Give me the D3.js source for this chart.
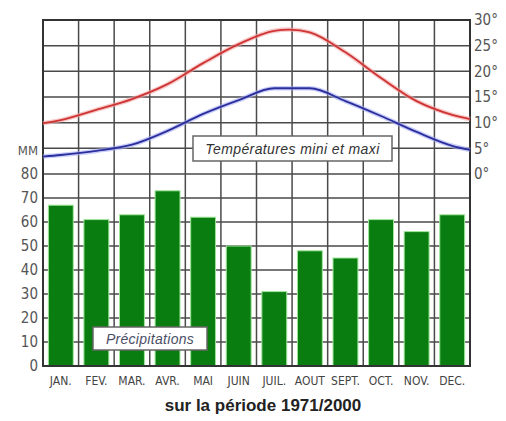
<!DOCTYPE html>
<html><head><meta charset="utf-8">
<script src="https://cdn.jsdelivr.net/npm/d3@7"></script>
<style>
html,body{margin:0;padding:0;background:#fff;}
svg{display:block;}
.nar{font-family:"Liberation Sans Narrow","Arial Narrow","DejaVu Sans Condensed",sans-serif;}
</style></head>
<body>
<svg id="c" width="506" height="421"></svg>
<script>
const months = ["JAN.","FEV.","MAR.","AVR.","MAI","JUIN","JUIL.","AOUT","SEPT.","OCT.","NOV.","DEC."];
const precip = [67,61,63,73,62,50,31,48,45,61,56,63];
const tMax = [10.5,12.5,14.6,17.5,21.6,25.3,27.9,27.6,23.7,18.7,14.2,11.5];
const tMin = [3.7,4.5,5.7,8.4,11.7,14.4,16.7,16.7,14.2,11.3,8.2,5.5];
// values where the curves meet the left and right frame
const tMaxEdges = [9.9, 10.7];
const tMinEdges = [3.4, 4.7];
const mmTicks = [0,10,20,30,40,50,60,70,80];
const tempTicks = [0,5,10,15,20,25,30];

const svg = d3.select("#c");
const L = 43, R = 470, T = 20, B = 366;

const x = d3.scaleBand().domain(months).range([L, R]).paddingInner(0.3).paddingOuter(0.15);
const yMM = d3.scaleLinear().domain([0, 80]).range([B, 174]);
const yT = d3.scaleLinear().domain([0, 30]).range([174, T]);
const step = x.step();

// grid
const g = svg.append("g");
const vlines = d3.range(13).map(i => L + i * step);
g.selectAll("line.v").data(vlines).join("line")
  .attr("x1", d => d).attr("x2", d => d).attr("y1", T).attr("y2", B)
  .attr("stroke", "#4a4a4a").attr("stroke-width", 1.5);
const hl = tempTicks.map(t => yT(t)).concat(mmTicks.slice(0, 8).map(m => yMM(m)));
g.selectAll("line.h").data(hl).join("line")
  .attr("x1", L).attr("x2", R).attr("y1", d => d).attr("y2", d => d)
  .attr("stroke", "#4a4a4a").attr("stroke-width", 1.5);

// bars
svg.append("g").selectAll("rect").data(precip).join("rect")
  .attr("x", (d, i) => x(months[i]))
  .attr("y", d => yMM(d))
  .attr("width", x.bandwidth())
  .attr("height", d => B - yMM(d))
  .attr("fill", "#0a7d10")
  .attr("stroke", "#9fe69a").attr("stroke-width", 1);

// frame
svg.append("rect").attr("x", L).attr("y", T).attr("width", R - L).attr("height", B - T)
  .attr("fill", "none").attr("stroke", "#333").attr("stroke-width", 2);

// temperature curves
const cx = i => x(months[i]) + x.bandwidth() / 2;
function series(arr, edges) {
  const pts = arr.map((v, i) => [cx(i), yT(v)]);
  pts.unshift([x.range()[0], yT(edges[0])]);
  pts.push([x.range()[1], yT(edges[1])]);
  return pts;
}
const lineR = d3.line().curve(d3.curveCatmullRom.alpha(0.5));
const lineB = d3.line().curve(d3.curveMonotoneX);
const lg = svg.append("g");
lg.append("path").attr("d", lineR(series(tMax, tMaxEdges))).attr("fill", "none").attr("stroke", "#f4a6a6").attr("stroke-width", 4.5).attr("opacity", 0.6);
lg.append("path").attr("d", lineR(series(tMax, tMaxEdges))).attr("fill", "none").attr("stroke", "#cf3434").attr("stroke-width", 1.8);
lg.append("path").attr("d", lineB(series(tMin, tMinEdges))).attr("fill", "none").attr("stroke", "#a6acf2").attr("stroke-width", 4.5).attr("opacity", 0.6);
lg.append("path").attr("d", lineB(series(tMin, tMinEdges))).attr("fill", "none").attr("stroke", "#2b2f9e").attr("stroke-width", 1.8);

// left axis labels
svg.append("g").selectAll("text").data(mmTicks).join("text")
  .attr("class", "nar")
  .attr("x", 38).attr("y", d => yMM(d)).attr("dy", "0.36em")
  .attr("text-anchor", "end").attr("font-size", 15).attr("fill", "#555")
  .text(d => d);
svg.append("text").attr("class", "nar").attr("x", 38).attr("y", yMM(90)).attr("dy", "0.36em")
  .attr("text-anchor", "end").attr("font-size", 13).attr("fill", "#555").text("MM");

// right axis labels
svg.append("g").selectAll("text").data(tempTicks).join("text")
  .attr("class", "nar")
  .attr("x", 474).attr("y", d => yT(d)).attr("dy", "0.36em")
  .attr("font-size", 15).attr("fill", "#555")
  .text(d => d + "°");

// month labels
svg.append("g").selectAll("text").data(months).join("text")
  .attr("class", "nar")
  .attr("x", d => x(d) + x.bandwidth() / 2).attr("y", 385)
  .attr("text-anchor", "middle").attr("font-size", 12).attr("fill", "#444")
  .text(d => d);

// legend boxes
function box(x0, y0, w, h, label, col, ls) {
  svg.append("rect").attr("x", x0).attr("y", y0).attr("width", w).attr("height", h)
    .attr("fill", "#fff").attr("stroke", "#666").attr("stroke-width", 1.5);
  svg.append("text").attr("x", x0 + w / 2).attr("y", y0 + h / 2).attr("dy", "0.36em")
    .attr("text-anchor", "middle").attr("font-style", "italic")
    .attr("font-family", "Liberation Sans, Arial, sans-serif").attr("font-size", 14)
    .attr("letter-spacing", ls)
    .attr("fill", col).text(label);
}
box(193, 136, 199, 25, "Températures mini et maxi", "#333", 0.4);
box(93, 327, 114, 23, "Précipitations", "#4a4f66", 0.3);

// title
svg.append("text").attr("x", 263).attr("y", 411).attr("text-anchor", "middle")
  .attr("font-family", "Liberation Sans, Arial, sans-serif").attr("font-weight", "bold")
  .attr("font-size", 17).attr("fill", "#222").text("sur la période 1971/2000");
</script>
</body></html>
